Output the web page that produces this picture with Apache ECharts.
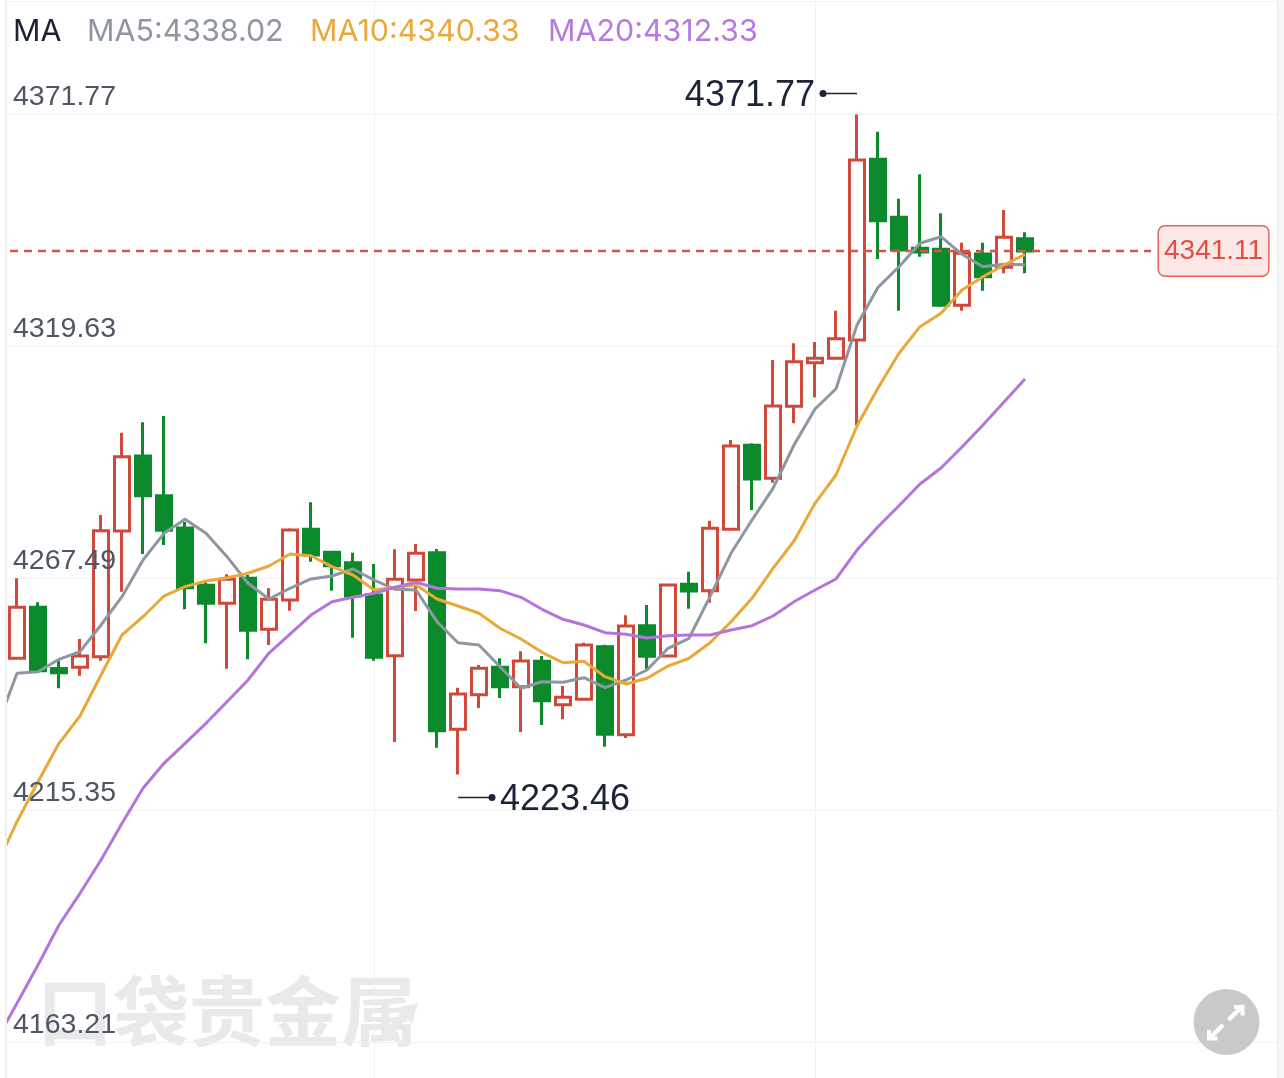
<!DOCTYPE html>
<html><head><meta charset="utf-8">
<style>html,body{margin:0;padding:0;background:#fff}#c{width:1284px;height:1078px}</style>
<script src="https://cdn.jsdelivr.net/npm/echarts@6/dist/echarts.min.js"></script>
</head><body><div id="c"></div>
<script>
// [open, close, low, high]
const candles = [
[4249.55,4261.01,4249.28,4267.53],[4261.01,4246.77,4246.77,4262.14],[4247.26,4246.32,4242.81,4249.01],[4247.53,4250.07,4245.64,4253.89],
[4249.91,4278.23,4249.01,4281.76],[4278.16,4294.86,4264.52,4300.25],[4295.02,4286.09,4272.99,4302.59],[4286.09,4278.32,4275.02,4304.01],
[4278.84,4265.42,4260.57,4280.19],[4265.96,4261.91,4252.92,4266.63],[4261.91,4267.31,4247.21,4268.43],[4267.53,4255.85,4249.33,4268.27],
[4256.07,4262.81,4252.54,4265.29],[4262.66,4278.39,4260.25,4278.77],[4278.54,4272.77,4271.26,4284.61],[4273.38,4270.36,4264.75,4273.60],
[4271.04,4263.55,4254.18,4273.29],[4263.78,4249.78,4249.01,4270.75],[4250.14,4267.31,4230.74,4274.05],[4267.15,4273.15,4260.18,4275.24],
[4273.29,4233.28,4229.46,4274.12],[4233.60,4241.53,4223.46,4242.95],[4241.37,4247.31,4238.38,4248.05],[4247.53,4243.17,4240.63,4249.55],
[4243.17,4248.95,4232.99,4251.13],[4248.88,4240.02,4234.56,4250.07],[4239.12,4240.79,4235.84,4243.33],[4240.34,4252.54,4240.18,4253.06],
[4252.16,4232.47,4229.69,4252.61],[4232.38,4256.81,4231.64,4259.22],[4256.88,4250.00,4247.15,4261.53],[4250.07,4266.03,4249.78,4266.14],
[4266.18,4264.68,4260.70,4269.02],[4264.75,4278.77,4262.05,4280.48],[4278.54,4297.27,4278.43,4298.61],[4297.42,4289.85,4282.88,4297.87],
[4290.01,4306.26,4289.02,4316.59],[4306.19,4316.21,4302.37,4320.35],[4315.99,4316.98,4308.21,4320.64],[4316.98,4321.38,4316.86,4327.67],
[4321.09,4361.54,4301.99,4371.77],[4361.70,4347.90,4339.29,4367.90],[4348.66,4341.31,4327.67,4352.84],[4341.70,4340.87,4339.81,4358.33],
[4341.47,4328.89,4328.77,4349.56],[4328.89,4340.57,4327.67,4342.96],[4340.42,4335.31,4332.17,4342.96],[4337.43,4344.17,4336.08,4350.30],
[4343.85,4341.11,4336.08,4345.29]];
const ma5 = [4233.66,4246.18,4246.54,4249.33,4251.04,4257.04,4263.40,4271.65,4277.64,4280.79,4277.64,4272.39,4266.41,4262.88,4265.29,4267.38,4268.05,4269.62,4267.15,4265.06,4264.90,4257.78,4253.06,4252.54,4247.67,4242.81,4244.29,4244.16,4245.19,4242.95,4244.68,4246.92,4251.80,4254.05,4263.40,4273.15,4280.64,4287.76,4297.49,4305.58,4310.14,4324.46,4332.93,4337.56,4342.82,4344.30,4340.35,4337.56,4338.10,4338.02];
const ma10 = [4202.65,4212.83,4221.82,4230.45,4236.59,4245.80,4254.79,4258.90,4263.55,4265.65,4266.93,4267.67,4268.66,4270.30,4272.99,4272.61,4270.14,4268.27,4264.90,4265.51,4266.03,4262.88,4261.31,4259.67,4256.30,4253.89,4250.90,4248.56,4248.88,4245.42,4243.78,4245.06,4247.82,4249.55,4253.06,4257.78,4263.04,4269.78,4275.92,4284.39,4290.75,4301.76,4310.30,4318.10,4324.08,4327.09,4332.33,4335.31,4337.94,4340.33];
const ma20 = [4163.55,4172.02,4180.63,4189.62,4196.74,4204.22,4212.47,4220.34,4225.95,4230.45,4234.94,4239.80,4244.68,4250.74,4255.01,4259.28,4262.27,4263.26,4264.16,4265.51,4266.63,4265.29,4265.13,4265.13,4264.75,4263.26,4260.57,4258.32,4257.04,4255.31,4254.95,4254.12,4254.63,4254.79,4254.79,4255.91,4256.88,4259.06,4262.27,4264.90,4267.38,4273.89,4279.13,4283.85,4288.73,4292.32,4297.04,4301.99,4307.15,4312.33];
const yTicks = [4163.21,4215.35,4267.49,4319.63,4371.77];
const lastPrice = 4341.11;
const extremes = [[41,4371.77,'high'],[22,4223.46,'low']];
const legendItems = [['MA','#1a2233',13],['MA5:4338.02','#8e96a2',87],['MA10:4340.33','#eaa93c',310],['MA20:4312.33','#b779dc',548]];
const splitCols = [18,39];

const FONT = 'Inter, sans-serif';
const NUMFONT = '"Liberation Sans", Arial, sans-serif';
const UP = '#d0483a', DOWN = '#0b8a2c', GRID = '#f1f1f1';
const cats = Array.from({length:62},(_,i)=>'K'+i);
const candleData = ['-'].concat(candles);
const priceData = cats.map((_,i)=> i<=55 ? lastPrice : null);

const chart = echarts.init(document.getElementById('c'),null,{renderer:'canvas'});
const maLine = (name,data,color)=>({name,type:'line',data,z:4,symbol:'none',showSymbol:false,smooth:false,
  lineStyle:{color,width:3,join:'round'},itemStyle:{color}});
chart.setOption({
  animation:false,
  backgroundColor:'#fff',
  grid:{left:-14.5,top:0,width:1302,height:1078,containLabel:false,outerBoundsMode:'none'},
  xAxis:{type:'category',data:cats,boundaryGap:true,axisLine:{show:false},axisTick:{show:false},axisLabel:{show:false},splitLine:{show:false}},
  yAxis:[
    {type:'value',min:4155.23,max:4397.5,position:'left',z:0,
     axisLine:{show:false},axisTick:{show:false,customValues:yTicks},
     axisLabel:{show:false,customValues:yTicks},splitLine:{show:true,lineStyle:{color:GRID,width:1}}},
    {type:'value',min:4155.23,max:4397.5,position:'left',z:20,
     axisLine:{show:false},axisTick:{show:false,customValues:yTicks},splitLine:{show:false},
     axisLabel:{show:true,inside:true,customValues:yTicks,margin:27.5,color:'#4d5664',fontFamily:NUMFONT,fontSize:28.5,
       verticalAlign:'bottom',padding:[0,0,3,0],formatter:v=>v.toFixed(2)}}
  ],
  series:[
    {name:'cols',type:'line',data:[],z:0,markLine:{silent:true,z:1,symbol:'none',label:{show:false},
       lineStyle:{color:GRID,width:1,type:'solid'},data:splitCols.map(i=>({xAxis:cats[i]}))}},
    {name:'K',type:'candlestick',data:candleData,z:2,barWidth:15,
     itemStyle:{color:'#ffffff',color0:DOWN,borderColor:UP,borderColor0:DOWN,borderColorDoji:DOWN,borderWidth:3}},
    maLine('MA5',ma5,'#8e96a2'),maLine('MA10',ma10,'#e9a83a'),maLine('MA20',ma20,'#b574dc'),
    {name:'price',type:'line',data:priceData,z:3,symbol:'none',showSymbol:false,connectNulls:false,
     lineStyle:{color:'#d9534a',width:2.5,type:[8,6]},
     endLabel:{show:true,formatter:()=>lastPrice.toFixed(2),distance:8,color:'#df4f48',fontFamily:NUMFONT,fontSize:28,
       backgroundColor:'#fbe8e6',borderColor:'#e2645e',borderWidth:1.5,borderRadius:6,lineHeight:31,align:'left',verticalAlign:'middle',padding:[9,5]}},
    {name:'extreme',type:'custom',data:extremes.map(e=>[e[0],e[1],e[2]==='high'?1:0]),z:6,clip:false,
     encode:{x:0,y:1},
     renderItem:(p,api)=>{
       const pt = api.coord([api.value(0),api.value(1)]);
       const hi = api.value(2)===1;
       const y = hi ? pt[1]-21 : pt[1]+23;
       const sx = hi ? pt[0]-34 : pt[0]+34;
       const tx = hi ? pt[0]-42 : pt[0]+42;
       const col='#1c2437';
       return {type:'group',children:[
         {type:'line',shape:{x1:pt[0],y1:y,x2:sx,y2:y},style:{stroke:col,lineWidth:1.5}},
         {type:'circle',shape:{cx:sx,cy:y,r:3.5},style:{fill:col}},
         {type:'text',style:{x:tx,y:y+2.5,text:api.value(1).toFixed(2),fill:col,font:'36px '+NUMFONT,textAlign:hi?'right':'left',textVerticalAlign:'middle'}}
       ]};
     }}
  ],
  graphic:{elements:[
    {type:'text',z:0,left:37,top:973,style:{text:'口袋贵金属',fill:'#e9e9e9',font:'bold 76px "Noto Sans CJK SC"'}},
    {type:'polygon',z:0,shape:{points:[[383,1032],[402,1012],[396,1008],[418,1003],[412,1024],[407,1018],[390,1036]]},style:{fill:'#e9e9e9'}},
    {type:'rect',z:100,shape:{x:0,y:0,width:5,height:1078},style:{fill:'#ffffff'}},
    {type:'line',z:100,shape:{x1:6,y1:0,x2:6,y2:1078},style:{stroke:'#efefef',lineWidth:2}},
    {type:'rect',z:100,shape:{x:1277,y:0,width:7,height:1078},style:{fill:'#f6f6f6'}},
    {type:'line',z:100,shape:{x1:1277.5,y1:0,x2:1277.5,y2:1078},style:{stroke:'#ececec',lineWidth:1}},
    {type:'line',z:1,shape:{x1:6,y1:1.5,x2:1277,y2:1.5},style:{stroke:'#f1f1f1',lineWidth:1}},
    {type:'circle',z:100,shape:{cx:1226.5,cy:1022,r:33},style:{fill:'#c9c9c9'}},
    {type:'polyline',z:101,shape:{points:[[1228.5,1020],[1242.5,1006]]},style:{stroke:'#fff',lineWidth:4.5,fill:null}},
    {type:'polyline',z:101,shape:{points:[[1234,1007],[1242.5,1007],[1242.5,1015.5]]},style:{stroke:'#fff',lineWidth:4,fill:null}},
    {type:'polyline',z:101,shape:{points:[[1223,1025],[1209,1039]]},style:{stroke:'#fff',lineWidth:4.5,fill:null}},
    {type:'polyline',z:101,shape:{points:[[1209,1030],[1209,1038.5],[1217.5,1038.5]]},style:{stroke:'#fff',lineWidth:4,fill:null}}
  ].concat(legendItems.map(it=>({type:'text',z:100,left:it[2],top:17,
      style:{text:it[0],fill:it[1],font:'30.4px '+FONT}})))}
});
</script></body></html>
